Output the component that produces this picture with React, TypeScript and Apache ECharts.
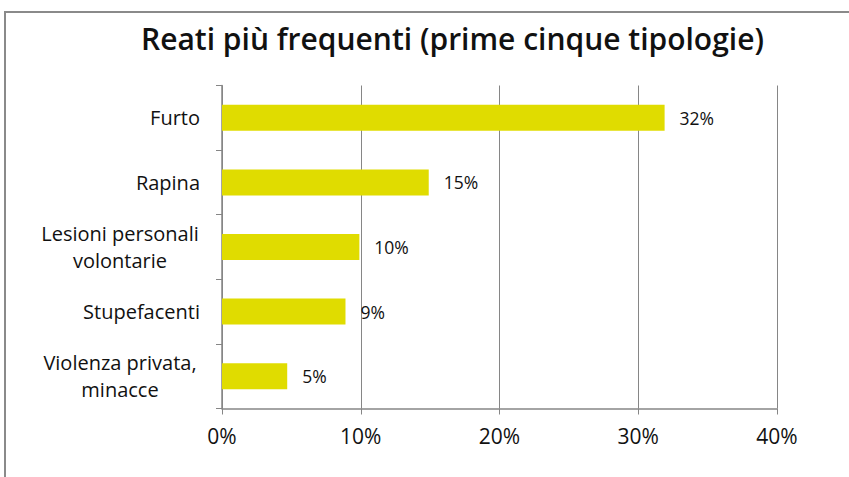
import React, { useEffect, useRef } from "react";
import * as echarts from "echarts";

const title = "Reati più frequenti (prime cinque tipologie)";
const categories = [
  "Furto",
  "Rapina",
  "Lesioni personali\nvolontarie",
  "Stupefacenti",
  "Violenza privata,\nminacce",
];
const values = [31.9, 14.9, 9.9, 8.9, 4.7];
const xTicks = [0, 10, 20, 30, 40];

export default function App() {
  const ref = useRef<HTMLDivElement>(null);
  useEffect(() => {
    document.body.style.margin = "0";
    const chart = echarts.init(ref.current!, null, { renderer: "svg" });
    const font = "'Open Sans', sans-serif";
    chart.setOption({
      animation: false,
      backgroundColor: "#ffffff",
      textStyle: { fontFamily: font },
      title: {
        text: title,
        left: 136,
        top: 18,
        textStyle: { fontFamily: font, fontSize: 30, fontWeight: 600, color: "#111" },
      },
      graphic: [
        {
          type: "rect",
          shape: { x: 5, y: 12, width: 900, height: 500 },
          style: { fill: "none", stroke: "#8a8a8a", lineWidth: 2 },
          silent: true,
        },
      ],
      grid: { left: 222, right: 72, top: 85.5, bottom: 68.5, containLabel: false },
      xAxis: {
        type: "value",
        min: 0,
        max: 40,
        interval: 10,
        axisLine: { show: true, lineStyle: { color: "#868686", width: 1.5 } },
        axisTick: { show: true, length: 6, lineStyle: { color: "#868686" } },
        splitLine: { show: true, lineStyle: { color: "#868686", width: 1 } },
        axisLabel: {
          margin: 17,
          fontSize: 21,
          color: "#111",
          fontFamily: font,
          formatter: (v: number) => (xTicks.includes(v) ? `${v}%` : ""),
        },
      },
      yAxis: {
        type: "category",
        inverse: true,
        data: categories,
        axisLine: { show: true, lineStyle: { color: "#868686", width: 1.5 } },
        axisTick: { show: true, length: 6, lineStyle: { color: "#868686" } },
        axisLabel: {
          margin: 22,
          fontSize: 20,
          color: "#111",
          fontFamily: font,
          lineHeight: 27,
          formatter: (v: string) => {
            const lines = v.split("\n");
            if (lines.length === 1) return v;
            return lines.map((l) => `{c|${l}}`).join("\n");
          },
          rich: {
            c: { width: 160, align: "center", fontSize: 20, lineHeight: 27, color: "#111", fontFamily: font },
          },
        },
      },
      series: [
        {
          type: "bar",
          data: values,
          barWidth: 26,
          itemStyle: { color: "#e0dc00" },
          label: {
            show: true,
            position: "right",
            distance: 15,
            fontSize: 17.5,
            color: "#111",
            fontFamily: font,
            formatter: (p: any) => `${Math.round(p.value)}%`,
          },
        },
      ],
    });
    return () => chart.dispose();
  }, []);
  return <div ref={ref} style={{ width: 849, height: 477 }} />;
}
